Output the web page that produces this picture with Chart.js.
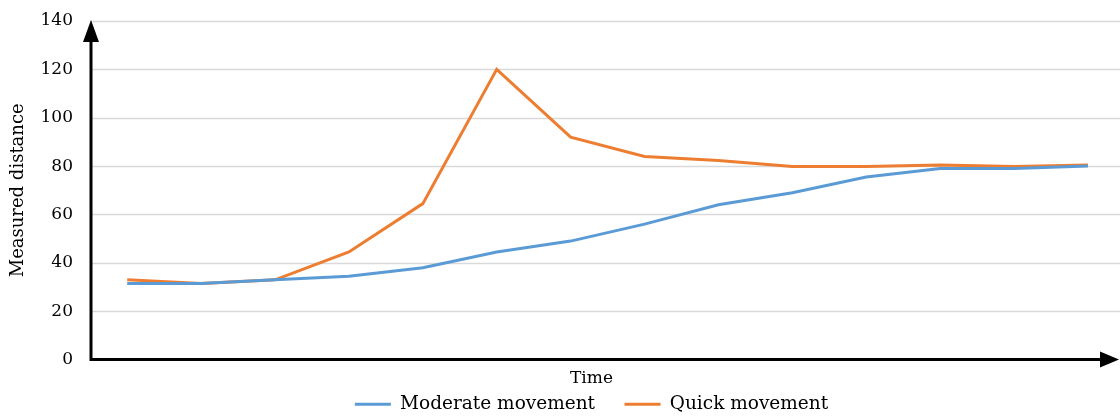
<!DOCTYPE html>
<html>
<head>
<meta charset="utf-8">
<script src="https://cdn.jsdelivr.net/npm/chart.js@4.4.0/dist/chart.umd.min.js"></script>
<style>
  html, body { margin: 0; padding: 0; background: #fff; }
  #wrap { width: 1120px; height: 420px; }
</style>
</head>
<body>
<div id="wrap"><canvas id="chart"></canvas></div>
<script>
// time steps (x axis has no tick labels in the original)
var timeSteps = [1, 2, 3, 4, 5, 6, 7, 8, 9, 10, 11, 12, 13, 14];
var moderate = [31.5, 31.5, 33, 34.5, 38, 44.5, 49, 56, 64, 69, 75.5, 79, 79, 80];
var quick = [33, 31.5, 33, 44.5, 64.5, 120, 92, 84, 82.3, 79.8, 79.8, 80.5, 79.8, 80.5];
var yTicks = [0, 20, 40, 60, 80, 100, 120, 140];

var FONT = "'DejaVu Serif', 'Liberation Serif', serif";

function toPoints(values) {
  return values.map(function (v, i) {
    return { x: i, y: v };
  });
}

// horizontal grid lines run on to the right edge of the canvas
var fullGrid = {
  id: "fullGrid",
  beforeDatasetsDraw: function (chart) {
    var ctx = chart.ctx;
    var y = chart.scales.y;
    ctx.save();
    ctx.strokeStyle = "#D9D9D9";
    ctx.lineWidth = 1.5;
    yTicks.forEach(function (v) {
      if (v === 0) return;
      var py = Math.round(y.getPixelForValue(v)) + 0.5;
      ctx.beginPath();
      ctx.moveTo(chart.chartArea.left, py);
      ctx.lineTo(chart.width, py);
      ctx.stroke();
    });
    ctx.restore();
  },
};

// black axis lines with arrow heads
var arrowAxes = {
  id: "arrowAxes",
  afterDraw: function (chart) {
    var ctx = chart.ctx;
    var area = chart.chartArea;
    var left = area.left;
    var bottom = area.bottom;
    ctx.save();
    ctx.strokeStyle = "#000";
    ctx.fillStyle = "#000";
    ctx.lineWidth = 3;
    ctx.beginPath();
    ctx.moveTo(left, bottom);
    ctx.lineTo(left, area.top + 18);
    ctx.moveTo(left - 1.5, bottom);
    ctx.lineTo(chart.width - 18, bottom);
    ctx.stroke();
    // up arrow
    ctx.beginPath();
    ctx.moveTo(left, area.top - 1);
    ctx.lineTo(left - 8, area.top + 21);
    ctx.lineTo(left + 8, area.top + 21);
    ctx.closePath();
    ctx.fill();
    // right arrow
    ctx.beginPath();
    ctx.moveTo(chart.width - 1, bottom);
    ctx.lineTo(chart.width - 20, bottom - 8);
    ctx.lineTo(chart.width - 20, bottom + 8);
    ctx.closePath();
    ctx.fill();
    ctx.restore();
  },
};

var ctx = document.getElementById("chart").getContext("2d");
new Chart(ctx, {
  type: "line",
  data: {
    datasets: [
      {
        label: "Moderate movement",
        data: toPoints(moderate),
        borderColor: "#5B9BD5",
        backgroundColor: "#5B9BD5",
        borderWidth: 3,
        pointRadius: 0,
        tension: 0,
        clip: false,
      },
      {
        label: "Quick movement",
        data: toPoints(quick),
        borderColor: "#ED7D31",
        backgroundColor: "#ED7D31",
        borderWidth: 3,
        pointRadius: 0,
        tension: 0,
        clip: false,
      },
    ],
  },
  options: {
    responsive: true,
    maintainAspectRatio: false,
    animation: false,
    layout: { padding: { top: 21, left: 0, right: 28, bottom: 0 } },
    plugins: {
      legend: {
        position: "bottom",
        fullSize: false,
        maxHeight: 31,
        labels: {
          boxWidth: 36,
          boxHeight: 3,
          padding: 6,
          color: "#000",
          font: { family: FONT, size: 18.5 },
          generateLabels: function (chart) {
            var items = Chart.defaults.plugins.legend.labels.generateLabels(chart);
            items.forEach(function (it, i) {
              it.lineWidth = 0;
              // wider gap between the two entries
              if (i < items.length - 1) it.text += "    ";
            });
            return items;
          },
        },
      },
      tooltip: { enabled: false },
    },
    scales: {
      x: {
        type: "linear",
        min: -0.49,
        max: 13.055,
        grid: { display: false, drawTicks: false },
        border: { display: false },
        ticks: { display: false },
        title: {
          display: true,
          text: "Time",
          color: "#000",
          font: { family: FONT, size: 17 },
          padding: { top: 9, bottom: 0 },
        },
      },
      y: {
        min: 0,
        max: 140,
        afterBuildTicks: function (axis) {
          axis.ticks = yTicks.map(function (v) {
            return { value: v };
          });
        },
        afterFit: function (axis) {
          axis.width = 91;
          axis.paddingTop = 0;
          axis.paddingBottom = 0;
        },
        grid: { display: false, drawTicks: false },
        border: { display: false },
        ticks: {
          color: "#000",
          padding: 18,
          font: { family: FONT, size: 17 },
        },
        title: {
          display: true,
          text: "Measured distance",
          color: "#000",
          font: { family: FONT, size: 18 },
          padding: { top: 8, bottom: 0 },
        },
      },
    },
  },
  plugins: [fullGrid, arrowAxes],
});
</script>
</body>
</html>
